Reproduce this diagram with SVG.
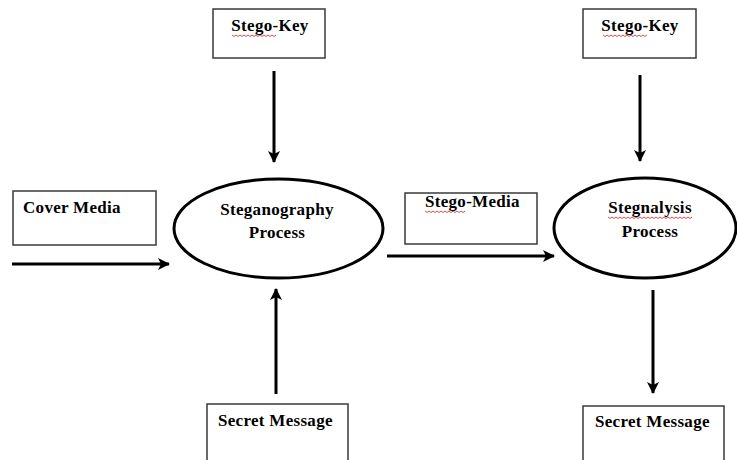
<svg xmlns="http://www.w3.org/2000/svg" width="737" height="460" viewBox="0 0 737 460">
<style>
.box{fill:#fff;stroke:#3a3a3a;stroke-width:1.5}
.ell{fill:#fff;stroke:#000;stroke-width:3}
.t{font-family:"Liberation Serif","Times New Roman",serif;font-weight:bold;font-size:17px;fill:#000;letter-spacing:0.3px}
.c{text-anchor:middle}
.arr{stroke:#000;stroke-width:3;fill:none;marker-end:url(#ah)}
.sq{stroke:#d02020;stroke-width:0.8;fill:none}
</style>
<defs>
<marker id="ah" viewBox="0 0 12 12" refX="11" refY="6" markerWidth="12" markerHeight="12" markerUnits="userSpaceOnUse" orient="auto">
<path d="M0,0 L12,6 L0,12 L3,6 z" fill="#000"/>
</marker>
</defs>
<rect width="737" height="460" fill="#fff"/>
<g id="connectors">
<line class="arr" x1="274" y1="71" x2="274" y2="162"/>
<line class="arr" x1="640" y1="75" x2="640" y2="161"/>
<line class="arr" x1="12" y1="264" x2="169" y2="264"/>
<line class="arr" x1="387" y1="256" x2="554" y2="256"/>
<line class="arr" x1="276" y1="394" x2="276" y2="289"/>
<line class="arr" x1="653" y1="290" x2="653" y2="393"/>
</g>
<g id="stegokey1">
<rect class="box" x="213" y="9" width="112" height="49"/>
<text class="t c" x="270" y="31">Stego-Key</text>
<path class="sq" d="M232,35 l2,1.5 l2,-1.5 l2,1.5 l2,-1.5 l2,1.5 l2,-1.5 l2,1.5 l2,-1.5 l2,1.5 l2,-1.5 l2,1.5 l2,-1.5 l2,1.5 l2,-1.5 l2,1.5 l2,-1.5 l2,1.5 l2,-1.5 l2,1.5 l2,-1.5 l2,1.5 l2,-1.5"/>
</g>
<g id="stegokey2">
<rect class="box" x="583" y="9" width="113" height="49"/>
<text class="t c" x="640" y="31">Stego-Key</text>
<path class="sq" d="M603,35 l2,1.5 l2,-1.5 l2,1.5 l2,-1.5 l2,1.5 l2,-1.5 l2,1.5 l2,-1.5 l2,1.5 l2,-1.5 l2,1.5 l2,-1.5 l2,1.5 l2,-1.5 l2,1.5 l2,-1.5 l2,1.5 l2,-1.5 l2,1.5 l2,-1.5 l2,1.5 l2,-1.5"/>
</g>
<g id="cover">
<rect class="box" x="13" y="191" width="143" height="54"/>
<text class="t" x="23" y="213">Cover Media</text>
</g>
<g id="stegprocess">
<ellipse class="ell" cx="278.5" cy="228.5" rx="104.5" ry="49.5"/>
<text class="t c" x="277" y="215">Steganography</text>
<text class="t c" x="277" y="238">Process</text>
</g>
<g id="stegomedia">
<rect class="box" x="405" y="193" width="132" height="51"/>
<text class="t" x="425" y="207">Stego-Media</text>
<path class="sq" d="M425,211 l2,1.5 l2,-1.5 l2,1.5 l2,-1.5 l2,1.5 l2,-1.5 l2,1.5 l2,-1.5 l2,1.5 l2,-1.5 l2,1.5 l2,-1.5 l2,1.5 l2,-1.5 l2,1.5 l2,-1.5 l2,1.5 l2,-1.5 l2,1.5 l2,-1.5"/>
</g>
<g id="stegnalysis">
<ellipse class="ell" cx="645" cy="228" rx="91" ry="50"/>
<text class="t c" x="650" y="213">Stegnalysis</text>
<path class="sq" d="M608,217 l2,1.5 l2,-1.5 l2,1.5 l2,-1.5 l2,1.5 l2,-1.5 l2,1.5 l2,-1.5 l2,1.5 l2,-1.5 l2,1.5 l2,-1.5 l2,1.5 l2,-1.5 l2,1.5 l2,-1.5 l2,1.5 l2,-1.5 l2,1.5 l2,-1.5 l2,1.5 l2,-1.5 l2,1.5 l2,-1.5 l2,1.5 l2,-1.5 l2,1.5 l2,-1.5 l2,1.5 l2,-1.5 l2,1.5 l2,-1.5 l2,1.5 l2,-1.5 l2,1.5 l2,-1.5 l2,1.5 l2,-1.5 l2,1.5 l2,-1.5 l2,1.5 l2,-1.5"/>
<text class="t c" x="650" y="237">Process</text>
</g>
<g id="secret1">
<rect class="box" x="207" y="404" width="141" height="60"/>
<text class="t" x="218" y="426">Secret Message</text>
</g>
<g id="secret2">
<rect class="box" x="583" y="406" width="141" height="60"/>
<text class="t" x="595" y="427">Secret Message</text>
</g>
</svg>
